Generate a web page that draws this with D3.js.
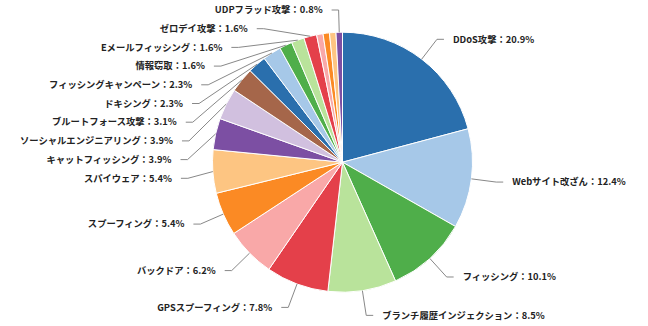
<!DOCTYPE html>
<html>
<head>
<meta charset="utf-8">
<script src="https://cdn.jsdelivr.net/npm/d3@7"></script>
<style>
  html, body { margin: 0; padding: 0; background: #fff; }
  svg { display: block; }
</style>
</head>
<body>
<svg id="chart" width="648" height="326"></svg>
<script>
// ---- data ----
const categories = [
  "DDoS攻撃", "Webサイト改ざん", "フィッシング", "ブランチ履歴インジェクション",
  "GPSスプーフィング", "バックドア", "スプーフィング", "スパイウェア",
  "キャットフィッシング", "ソーシャルエンジニアリング", "ブルートフォース攻撃",
  "ドキシング", "フィッシングキャンペーン", "情報窃取", "Eメールフィッシング",
  "ゼロデイ攻撃", "", "", "", "UDPフラッド攻撃"
];
const percents = [20.9, 12.4, 10.1, 8.5, 7.8, 6.2, 5.4, 5.4, 3.9, 3.9, 3.1,
                  2.3, 2.3, 1.6, 1.6, 1.6, 0.8, 0.8, 0.8, 0.8];
const palette = ["#2a6fad", "#a6c8e8", "#4fae4a", "#b9e39b", "#e4404a", "#f9a8a8",
                 "#fb8a24", "#fdc582", "#7c4fa3", "#d1c0df", "#a5664a"];

// ---- layout ----
const svg = d3.select("#chart");
const cx = 342.5, cy = 162.2, r = 130;
const R1 = 155, len2 = 7, gap = 9, spacing = 18.7, topBound = 10;

const data = categories.map((c, i) => ({ name: c, value: percents[i], i }));
const pie = d3.pie().value(d => d.value).sort(null);
const arcs = pie(data);
const arc = d3.arc().innerRadius(0).outerRadius(r);
const color = d3.scaleOrdinal().domain(d3.range(categories.length)).range(palette);

const g = svg.append("g").attr("transform", `translate(${cx},${cy})`);
g.selectAll("path.slice").data(arcs).enter().append("path")
  .attr("class", "slice")
  .attr("d", arc)
  .attr("fill", d => color(d.data.i))
  .attr("stroke", "#fff")
  .attr("stroke-width", 1);

// labels
const items = arcs.filter(a => a.data.name !== "").map(a => {
  const mid = (a.startAngle + a.endAngle) / 2;
  const s = Math.sin(mid), c = Math.cos(mid);
  return {
    a, mid,
    ex: s * r, ey: -c * r,
    bx: s * R1, by: -c * R1,
    side: s < 0 ? -1 : 1,
    y: -c * R1
  };
});

function layoutSide(list) {
  list.sort((p, q) => p.by - q.by);
  let prev = -Infinity;
  list.forEach((it, k) => {
    let y = it.by;
    if (k === 0) y = Math.max(y, topBound - cy);
    y = Math.max(y, prev + spacing);
    it.y = y;
    prev = y;
    const shifted = Math.abs(it.y - it.by) > 5;
    if (shifted && Math.abs(it.y) < R1) {
      it.bx = it.side * Math.sqrt(R1 * R1 - it.y * it.y);
    }
  });
}
layoutSide(items.filter(d => d.side < 0));
layoutSide(items.filter(d => d.side > 0));

const lg = g.append("g");
items.forEach(it => {
  const endX = it.bx + it.side * len2;
  lg.append("polyline")
    .attr("points", [[it.ex, it.ey], [it.bx, it.y], [endX, it.y]].map(p => p.join(",")).join(" "))
    .attr("fill", "none")
    .attr("stroke", "#888")
    .attr("stroke-width", 1);
  lg.append("text")
    .attr("x", endX + it.side * gap)
    .attr("y", it.y)
    .attr("dy", "0.35em")
    .attr("text-anchor", it.side < 0 ? "end" : "start")
    .attr("font-family", "'Noto Sans CJK JP', 'Noto Sans', sans-serif")
    .attr("font-size", 9.3)
    .attr("font-weight", "bold")
    .attr("fill", "#222")
    .text(`${it.a.data.name}：${it.a.data.value}%`);
});
</script>
</body>
</html>
